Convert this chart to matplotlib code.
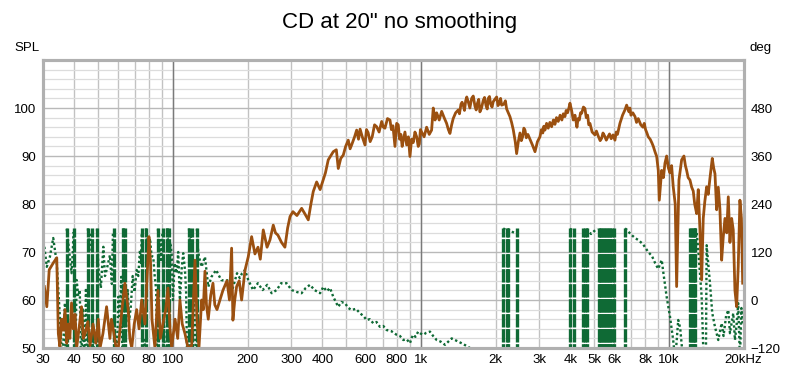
import matplotlib

matplotlib.use("Agg")

import matplotlib.pyplot as plt
import numpy as np


# ==================================================
# DATA
# ==================================================

# SPL trace, dB, split by band so the lists stay readable
spl_hz_low = [
    30.3, 31.0, 31.7, 32.9, 34.0, 34.5, 35.0, 35.6, 36.1, 36.7,
    37.3, 37.8, 38.4, 39.0, 39.6, 40.3, 40.9, 41.8, 42.8, 43.5,
    44.2, 45.4, 46.3, 47.6, 48.9, 50.0, 50.8, 52.2, 54.0, 55.7,
    56.5, 57.4, 58.8, 60.2, 62.0, 64.0, 66.0, 67.0, 68.2, 69.8,
    71.4, 73.0, 74.8, 77.1, 78.5, 80.0, 81.2, 82.3, 84.6, 86.0,
    87.0, 89.0, 91.1, 93.5, 95.5, 97.3, 98.8, 102.0, 104.5, 106.7,
    109.0, 111.8, 115.0, 119.0, 121.0, 122.7, 125.0, 127.3, 130.5, 132.5,
    134.6, 136.5, 138.8, 142.0, 145.0, 147.5, 150.5, 154.7, 159.0, 165.1,
    169.0, 172.4, 174.5, 177.5, 180.6, 185.0, 189.2, 195.2,
]
spl_db_low = [
    62.8, 58.6, 66.3, 67.7, 68.8, 53.0, 50.3, 56.0, 53.7, 58.0,
    51.0, 55.0, 52.0, 59.4, 54.0, 57.0, 50.0, 54.0, 58.6, 52.0,
    53.0, 55.5, 50.5, 55.0, 51.0, 56.0, 50.0, 53.0, 58.6, 52.0,
    56.0, 54.0, 50.5, 50.0, 57.0, 63.5, 58.0, 52.0, 50.0, 55.0,
    58.0, 54.0, 60.0, 55.0, 64.0, 73.2, 68.0, 56.0, 50.0, 57.0,
    62.0, 52.0, 55.0, 58.0, 62.5, 54.0, 50.0, 56.0, 52.0, 60.0,
    55.0, 53.0, 50.0, 50.5, 60.0, 68.3, 56.0, 50.0, 60.0, 58.0,
    66.0, 59.0, 56.0, 61.0, 63.5, 59.0, 58.0, 60.0, 62.0, 64.0,
    60.0, 70.8, 55.8, 60.0, 62.8, 64.0, 60.0, 66.2,
]

spl_hz_mid = [
    201.2, 207.6, 214.1, 220.2, 225.0, 231.3, 239.6, 246.1, 253.8, 259.0,
    265.1, 274.0, 282.8, 290.0, 296.6, 304.7, 316.2, 330.3, 340.0, 351.3,
    360.0, 367.9, 379.7, 392.1, 403.6, 412.0, 422.9, 443.1, 455.8, 464.1,
    475.0, 486.2, 497.0, 509.2, 518.0, 527.1, 540.0, 550.5, 560.0, 568.4,
    580.0, 594.6, 603.0, 612.1, 624.0, 636.0, 650.0, 662.9, 678.0, 694.4,
    705.0, 715.9, 733.0, 750.0, 760.0, 771.0, 785.7, 798.0, 810.1, 820.0,
    830.0, 840.0, 848.6, 862.0, 875.8, 890.0, 902.8, 917.0, 930.9, 946.0,
    961.0, 975.0, 985.0, 995.0,
]
spl_db_mid = [
    69.0, 73.2, 69.6, 71.0, 68.5, 74.6, 71.0, 72.5, 75.6, 74.0,
    73.5, 72.0, 71.0, 75.0, 77.4, 78.4, 77.6, 79.1, 78.0, 76.7,
    80.0, 82.6, 84.6, 83.0, 85.0, 86.5, 89.2, 90.9, 91.3, 87.4,
    89.5, 90.2, 92.0, 93.3, 91.5, 92.5, 94.0, 95.4, 93.5, 95.6,
    94.0, 92.3, 95.5, 94.9, 93.0, 94.0, 96.5, 96.1, 95.0, 97.2,
    96.0, 95.8, 97.8, 97.5, 95.5, 96.3, 92.0, 96.8, 96.5, 93.5,
    94.5, 92.0, 93.3, 95.0, 92.3, 94.0, 89.9, 93.5, 92.8, 95.0,
    94.0, 92.0, 92.5, 95.5,
]

spl_hz_high = [
    1006, 1030, 1054, 1080, 1104, 1121, 1140, 1157, 1185, 1212,
    1240, 1269, 1290, 1309, 1330, 1349, 1380, 1414, 1430, 1450,
    1465, 1481, 1498, 1515, 1530, 1551, 1575, 1601, 1625, 1651,
    1670, 1690, 1710, 1729, 1755, 1783, 1805, 1830, 1850, 1868,
    1890, 1910, 1935, 1956, 1985, 2020, 2045, 2070, 2095, 2116,
    2160, 2190, 2216, 2250, 2285, 2320, 2356, 2400, 2431, 2470,
    2508, 2540, 2570, 2600, 2627, 2660, 2700, 2761, 2820, 2883,
    2950, 3019, 3060, 3100, 3130, 3162, 3210, 3260, 3310, 3365,
    3420, 3470, 3520, 3578, 3640, 3700, 3750, 3807, 3850, 3900,
    3950, 3989, 4050, 4113, 4180, 4256, 4300, 4350, 4400, 4446,
    4520, 4584, 4640, 4700, 4750, 4803, 4900, 5030, 5100, 5200,
    5280, 5353, 5420, 5500, 5590, 5675, 5760, 5850, 5950, 6057,
    6130, 6200, 6344, 6500, 6646, 6751, 6900, 6960, 7027, 7150,
    7300, 7400, 7520, 7700, 7857, 7950, 8050, 8150, 8251, 8400,
    8542, 8650,
]
spl_db_high = [
    95.0, 94.0, 96.0, 94.5, 95.4, 100.0, 97.5, 99.0, 97.5, 99.3,
    98.0, 96.8, 95.5, 94.7, 96.5, 97.8, 99.0, 99.6, 98.8, 100.8,
    101.2, 100.6, 99.5, 101.5, 102.3, 101.3, 100.0, 102.0, 102.5, 100.4,
    99.6, 101.0, 101.8, 99.2, 100.0, 101.6, 102.2, 100.5, 99.8, 102.0,
    102.4, 100.8, 100.2, 101.3, 101.8, 102.3, 100.5, 101.0, 102.0, 100.6,
    100.8, 101.5, 99.8, 99.0, 98.2, 97.0, 95.5, 93.0, 90.5, 93.0,
    94.8, 93.2, 94.0, 95.8, 95.4, 93.8, 94.5, 93.3, 92.2, 90.9,
    93.0, 94.0, 95.5, 94.8, 96.2, 95.4, 96.8, 95.8, 97.0, 96.1,
    97.5, 96.6, 98.0, 97.2, 98.5, 97.5, 98.8, 98.2, 99.5, 99.0,
    100.0, 101.0, 99.5, 97.5, 98.5, 96.0, 97.8, 97.5, 99.0, 98.9,
    100.2, 99.9, 98.0, 98.5, 96.5, 96.8, 95.0, 94.4, 95.2, 94.0,
    93.2, 93.7, 94.8, 94.2, 93.3, 94.0, 94.6, 93.6, 94.4, 93.3,
    95.0, 94.5, 96.8, 98.5, 99.6, 100.6, 99.2, 100.0, 98.5, 99.0,
    98.2, 97.0, 97.8, 96.5, 96.0, 96.8, 95.5, 94.8, 94.0, 93.5,
    92.7, 92.0,
]

spl_hz_top = [
    8783, 8924, 9057, 9141, 9346, 9500, 9637, 9790, 9950, 10093,
    10250, 10406, 10600, 10740, 10974, 11100, 11251, 11494, 11650, 11786,
    11950, 12155, 12350, 12532, 12700, 12935, 13128, 13335, 13549, 13750,
    13950, 14191, 14400, 14635, 14952, 15150, 15332, 15573, 15806, 16050,
    16312, 16550, 16821, 17100, 17350, 17620, 17900, 18168, 18455, 18750,
    19027, 19330, 19600, 19830,
]
spl_db_top = [
    90.9, 89.9, 87.0, 80.8, 87.0, 85.5, 88.5, 90.0, 87.5, 86.5,
    88.0, 83.6, 80.0, 62.8, 85.0, 87.0, 89.2, 90.0, 88.0, 87.0,
    85.5, 85.0, 83.5, 82.7, 80.0, 78.0, 83.0, 74.6, 64.2, 77.0,
    80.5, 83.6, 82.0, 85.4, 89.5, 87.5, 86.3, 78.8, 83.5, 79.0,
    68.3, 73.0, 77.0, 74.0, 81.5, 72.0, 77.0, 74.6, 62.0, 58.6,
    67.0, 80.8, 77.0, 63.5,
]

# phase trace, wrapped to +/-180 deg
phase_hz = [
    30.3, 31.0, 31.9, 32.9, 34.0, 35.0, 35.8, 36.7, 37.0, 37.3,
    38.2, 39.0, 39.5, 39.7, 39.9, 40.4, 40.9, 41.5, 42.1, 42.6,
    43.3, 43.9, 44.6, 45.0, 45.4, 45.9, 46.5, 46.9, 47.2, 47.6,
    48.3, 49.4, 50.0, 51.2, 52.4, 53.2, 54.0, 55.7, 56.7, 57.3,
    57.8, 58.5, 59.3, 60.2, 61.0, 61.9, 62.4, 62.7, 62.9, 63.4,
    64.0, 64.8, 65.7, 66.6, 67.6, 68.8, 70.0, 71.4, 72.5, 73.6,
    74.4, 74.8, 75.0, 76.0, 77.0, 77.5, 77.8, 79.2, 80.8, 82.0,
    83.3, 84.4, 85.6, 86.4, 87.0, 88.0, 89.0, 90.0, 90.7, 91.1,
    92.0, 93.0, 94.6, 95.5, 96.4, 96.9, 97.6, 98.8, 100.0, 101.5,
    103.5, 105.0, 106.7, 108.5, 110.0, 111.8, 113.0, 114.2, 116.0, 117.5,
    118.5, 119.3, 120.2, 121.0, 122.5, 123.8, 124.9, 126.0, 127.3, 130.5,
    134.6, 138.8, 143.0, 149.3, 156.5, 162.0, 168.4, 173.4, 181.3, 186.0,
    190.0, 195.2, 201.2, 210.5, 220.0, 230.0, 240.0, 250.0, 262.0, 273.0,
    287.0, 301.0, 316.0, 330.0, 343.0, 357.0, 372.0, 392.0, 404.0, 417.0,
    430.0, 443.0, 464.0, 478.0, 494.0, 510.0, 525.0, 547.0, 568.0, 586.0,
    604.0, 622.0, 642.0, 662.0, 683.0, 705.0, 727.0, 760.0, 798.0, 823.0,
    849.0, 875.0, 903.0, 917.0, 931.0, 950.0, 975.0, 998.0, 1022, 1050,
    1087, 1120, 1157, 1200, 1250, 1290, 1330, 1370, 1414, 1480,
    1576, 1650, 1729, 1850, 1988, 2080, 2147, 2190, 2220, 2242,
    2290, 2340, 2390, 2431, 2500, 2800, 3200, 3600, 3900, 3989,
    4070, 4155, 4300, 4490, 4570, 4660, 4750, 4850, 4950, 5050,
    5150, 5200, 5260, 5330, 5400, 5480, 5560, 5640, 5720, 5800,
    5900, 6000, 6200, 6500, 6650, 6750, 7000, 7300, 7520, 7850,
    8250, 8540, 8800, 9050, 9350, 9500, 9790, 10100, 10400, 10600,
    10900, 11100, 11400, 11800, 12150, 12300, 12450, 12600, 12750, 12935,
    13128, 13335, 13550, 13750, 13950, 14100, 14191, 14635, 14952, 15332,
    15806, 16312, 16600, 17000, 17350, 17620, 18168, 18455, 18750, 19027,
    19330, 19600, 19830,
]

phase_deg = [
    133, 83, 108, 155, 92, -42, -165, -7, -160, 178,
    120, 67, 125, 170, -176, -140, 50, 10, 25, -170,
    -20, -170, 30, -165, 179, 120, 150, 172, -178, -60,
    -170, 178, 83, 30, 133, 60, 75, 112, 40, 170,
    -178, -90, -160, 8, -40, 58, -100, -172, 179, 170,
    -179, -60, 25, -50, -17, 60, 20, 75, 60, 125,
    90, 168, -178, -140, -100, -170, 179, 120, 154, 110,
    108, 60, 25, -170, 178, 100, 150, 95, 172, -177,
    -40, -170, 179, 150, -179, -20, 142, 117, 0, 92,
    67, 120, 0, 80, 117, 75, 20, -170, 179, 130,
    170, -178, -80, 67, -60, -160, 178, 130, 108, 83,
    108, 33, 58, 75, 50, 48, 50, 25, 67, 55,
    67, 75, 50, 25, 42, 25, 38, 17, 25, 42,
    42, 25, 20, 17, 30, 38, 25, 17, 33, 22,
    30, 8, -17, -5, -8, -20, -25, -22, -33, -40,
    -50, -48, -58, -55, -67, -65, -75, -78, -87, -90,
    -100, -98, -108, -95, -87, -92, -79, -84, -87, -82,
    -79, -90, -100, -104, -112, -104, -96, -100, -104, -110,
    -120, -130, -140, -155, -170, -178, 179, 176, -179, 178,
    172, 170, 168, -176, -168, -150, -140, -152, -170, 178,
    175, -178, -172, 178, -179, 178, 172, 165, 170, 175,
    178, -178, 179, -179, 178, -177, 179, -178, 178, -179,
    177, -178, -170, -175, 179, 176, 165, 155, 150, 140,
    120, 110, 92, 78, 100, 67, 8, -42, -100, -150,
    -50, -70, -150, -170, 179, -179, 178, -178, 179, 170,
    125, 67, 8, -120, -170, -130, 137, 42, -33, -67,
    -100, -58, -90, -40, -25, -83, -33, -100, -60, -8,
    -150, -20, -60,
]

x_grid_hz = [30, 40, 50, 60, 70, 80, 90,
             100, 200, 300, 400, 500, 600, 700, 800, 900,
             1000, 2000, 3000, 4000, 5000, 6000, 7000, 8000, 9000,
             10000, 20000]
x_labels = ["30", "40", "50", "60", "", "80", "",
            "100", "200", "300", "400", "", "600", "", "800", "",
            "1k", "2k", "3k", "4k", "5k", "6k", "", "8k", "",
            "10k", "20kHz"]
decade_hz = [100, 1000, 10000]

spl_ticks = [50, 60, 70, 80, 90, 100]
deg_ticks = [-120, 0, 120, 240, 360, 480]

spl_hz = spl_hz_low + spl_hz_mid + spl_hz_high + spl_hz_top
spl_db = spl_db_low + spl_db_mid + spl_db_high + spl_db_top

assert len(spl_hz) == len(spl_db)
assert len(phase_hz) == len(phase_deg)


# ==================================================
# STYLE
# ==================================================

BROWN = "#9b5010"
GREEN = "#0f6a35"
FONT = "Liberation Sans"

plt.rcParams["font.family"] = [FONT, "DejaVu Sans"]


# ==================================================
# FIGURE
# ==================================================

fig = plt.figure(figsize=(8, 3.73), dpi=100)

# phase axes at the back (carries the grid), SPL axes on top
ax_ph = fig.add_axes([0.0541, 0.0670, 0.8754, 0.7721])
ax = ax_ph.twinx()

ax_ph.set_xscale("log")
ax_ph.set_xlim(30, 20000)
ax_ph.set_ylim(-120, 600)
ax.set_ylim(50, 110)

# grid
ax_ph.set_xticks(x_grid_hz)
ax_ph.set_xticklabels(x_labels)
ax_ph.xaxis.set_minor_locator(matplotlib.ticker.NullLocator())
ax_ph.set_yticks(deg_ticks)
ax_ph.set_yticks(np.arange(-120, 601, 24), minor=True)
ax_ph.grid(True, which="minor", axis="y", color="#dcdcdc", linewidth=0.9)
ax_ph.grid(True, which="major", axis="y", color="#b9b9b9", linewidth=1.0)
ax_ph.grid(True, which="major", axis="x", color="#c2c2c2", linewidth=1.0)
ax_ph.set_axisbelow(True)

# decade lines sit over the horizontal grid, as in REW
for hz in decade_hz:
    ax_ph.axvline(hz, color="#7a7a7a", linewidth=1.0, zorder=0.8)

# phase: dotted trace, dashed verticals where it wraps
ph_f = np.array(phase_hz, dtype=float)
ph_v = np.array(phase_deg, dtype=float)
jump = np.abs(np.diff(ph_v)) > 300
wrap_hz = ph_f[1:][jump]
cut = np.where(jump)[0] + 1
line_f = np.insert(ph_f, cut, np.nan)
line_v = np.insert(ph_v, cut, np.nan)

ax_ph.vlines(
    wrap_hz, -180, 180,
    color=GREEN,
    linewidth=2.4,
    linestyles=[(0, (4.0, 0.5))]
)
ax_ph.plot(
    line_f, line_v,
    color=GREEN,
    linewidth=1.7,
    linestyle=(0, (1, 1.1))
)

# SPL
ax.plot(
    spl_hz, spl_db,
    color=BROWN,
    linewidth=2.0,
    solid_joinstyle="round"
)

# ticks / labels
ax.set_yticks(spl_ticks)
ax.yaxis.tick_left()
ax_ph.yaxis.tick_right()
for a in (ax, ax_ph):
    a.tick_params(axis="both", which="both", length=0, labelsize=9.5,
                  colors="black", pad=5)
ax_ph.tick_params(axis="x", pad=4)

# frame
for a in (ax, ax_ph):
    for side in a.spines.values():
        side.set_color("#b0b0b0")
        side.set_linewidth(2.2)

fig.text(0.034, 0.87, "SPL", fontsize=9.5, ha="center", va="center")
fig.text(0.951, 0.87, "deg", fontsize=9.5, ha="center", va="center")
fig.text(0.5, 0.94, "CD at 20\" no smoothing", fontsize=16,
         ha="center", va="center")

fig.savefig("out.png", dpi=100)
plt.close(fig)
